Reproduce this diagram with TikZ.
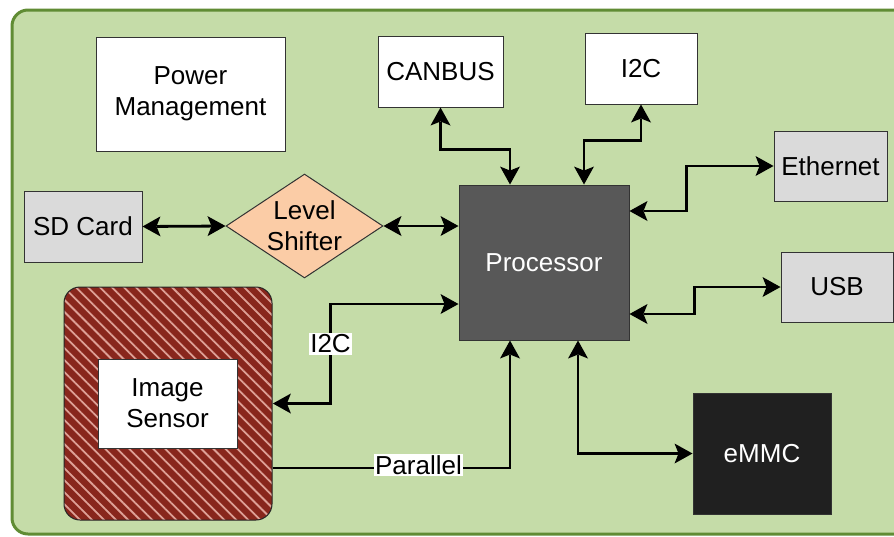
\documentclass[tikz,border=0pt]{standalone}
\usepackage{fontspec}
\setmainfont{Liberation Sans}
\usetikzlibrary{arrows.meta,patterns.meta,shapes.geometric,calc}
\definecolor{bgfill}{RGB}{197,220,168}
\definecolor{bgline}{RGB}{96,140,52}
\definecolor{lightgray}{RGB}{218,218,218}
\definecolor{procgray}{RGB}{88,88,88}
\definecolor{emmcblack}{RGB}{32,32,32}
\definecolor{sensorred}{RGB}{136,38,28}
\definecolor{stripe}{RGB}{222,160,150}
\definecolor{peach}{RGB}{251,204,166}
\tikzset{myhead/.tip={Stealth[length=18pt 0 0,width=20pt 0 0,inset=4pt 0 0,line width=0pt]}}
\begin{document}
\begin{tikzpicture}[x=1pt,y=-1pt,
  font=\fontsize{26}{31}\selectfont,
  box/.style={draw=black!80, line width=1pt, fill=white, inner sep=0pt, align=center},
  graybox/.style={box, fill=lightgray},
  procbox/.style={draw=black!80, line width=1pt, fill=procgray, text=white, inner sep=0pt},
  emmcbox/.style={draw=black!80, line width=1pt, fill=emmcblack, text=white, inner sep=0pt},
  sensorbox/.style={draw=black!85, line width=1pt, rounded corners=16pt, inner sep=0pt,
     preaction={fill=sensorred},
     pattern={Lines[angle=-45,distance=8.5pt,line width=1.8pt]}, pattern color=stripe},
  shifter/.style={diamond, draw=black!80, line width=1pt, fill=peach, inner sep=0pt},
  conn/.style={line width=2.8pt, line join=miter, draw=black},
  both/.style={conn, myhead-myhead},
  single/.style={conn, -myhead},
  lbl/.style={fill=white, inner sep=1.5pt}]
\clip (0,0) rectangle (894,536);
\useasboundingbox (0,0) rectangle (894,536);
\draw[line width=3pt, draw=bgline, fill=bgfill, rounded corners=16pt] (12,10) rectangle (930,534);

\node[box, minimum width=189pt, minimum height=114pt] (pm) at (190.5,94) {Power\\Management};
\node[box, minimum width=125pt, minimum height=71pt] (can) at (440.5,71.5) {CANBUS};
\node[box, minimum width=112pt, minimum height=71pt] (i2ct) at (641,68.5) {I2C};
\node[graybox, minimum width=113pt, minimum height=70pt] (eth) at (830.5,166) {Ethernet};
\node[graybox, minimum width=112pt, minimum height=70pt] (usb) at (837,287) {USB};
\node[graybox, minimum width=118pt, minimum height=71pt] (sd) at (83,226.5) {SD Card};
\node[procbox, minimum width=170pt, minimum height=155pt] (proc) at (544,262.5) {Processor};
\node[emmcbox, minimum width=138pt, minimum height=121pt] (emmc) at (762,453.5) {eMMC};
\node[shifter, minimum width=157pt, minimum height=104pt,
      label={[align=center]center:Level\\Shifter}] (ls) at (304.5,226) {};
\node[sensorbox, minimum width=208pt, minimum height=233pt] (sensor) at (168,403.5) {};
\node[box, minimum width=139pt, minimum height=89pt] (img) at (167.5,403.5) {Image\\Sensor};

\draw[both] (sd.east) -- (ls.west);
\draw[both] (ls.east) -- (proc.west |- ls.east);
\draw[both] (can.south) -- ++(0,42) -| ($(proc.north)+(-34,0)$);
\draw[both] (i2ct.south) -- ++(0,36) -| ($(proc.north)+(40,0)$);
\draw[both] ($(proc.east)+(0,-51.5)$) -- ++(57,0) |- (eth.west);
\draw[both] ($(proc.east)+(0,51.5)$) -- ++(65,0) |- (usb.west);
\draw[both] ($(proc.south)+(34,0)$) |- (emmc.west);
\coordinate (i2cA) at ($(proc.west)+(0,41.5)$);
\coordinate (i2cB) at ($(i2cA)+(-128,0)$);
\draw[both] (i2cA) -- (i2cB) -- node[lbl,pos=0.4]{I2C} (i2cB |- sensor.east) -- (sensor.east);
\draw[single] ($(sensor.east)+(0,64.5)$) -| node[lbl,pos=0.307,yshift=3pt]{Parallel} ($(proc.south)+(-34,0)$);
\end{tikzpicture}
\end{document}
